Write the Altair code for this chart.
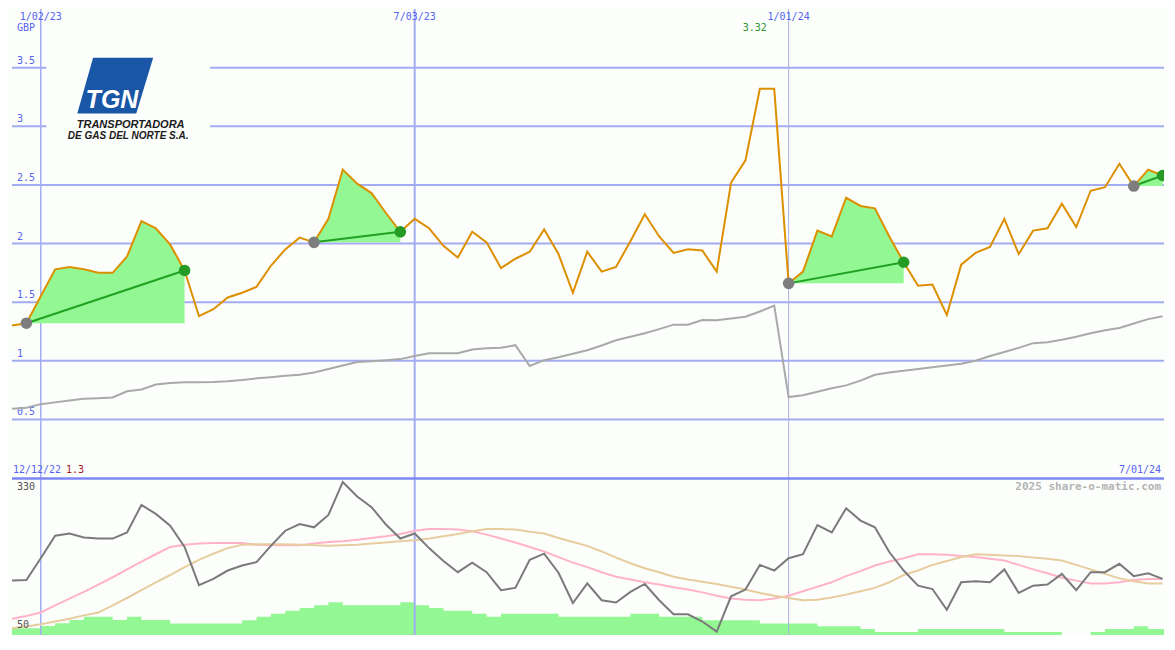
import altair as alt
import pandas as pd

# ------------------------------------------------------------------ data
start_date = "2022-12-19"          # first weekly observation (left edge)

price = [1.30, 1.32, 1.55, 1.78, 1.80, 1.78, 1.75, 1.75, 1.89, 2.19,
         2.13, 1.99, 1.77, 1.38, 1.44, 1.54, 1.58, 1.63, 1.81, 1.95,
         2.05, 2.01, 2.21, 2.63, 2.51, 2.43, 2.26, 2.10, 2.21, 2.13,
         1.98, 1.88, 2.10, 2.01, 1.79, 1.87, 1.93, 2.12, 1.91, 1.58,
         1.93, 1.76, 1.80, 2.02, 2.25, 2.06, 1.92, 1.95, 1.94, 1.76,
         2.52, 2.71, 3.32, 3.32, 1.66, 1.76, 2.11, 2.06, 2.39, 2.32,
         2.30, 2.06, 1.84, 1.64, 1.65, 1.39, 1.82, 1.92, 1.97, 2.21,
         1.91, 2.11, 2.13, 2.34, 2.14, 2.45, 2.48, 2.68, 2.49, 2.63,
         2.58]

rel = [0.59, 0.60, 0.63, 0.645, 0.66, 0.675, 0.68, 0.687, 0.74, 0.755,
       0.797, 0.81, 0.816, 0.817, 0.818, 0.825, 0.835, 0.85, 0.86, 0.872,
       0.88, 0.90, 0.93, 0.96, 0.99, 0.996, 1.005, 1.014, 1.04, 1.063,
       1.065, 1.065, 1.095, 1.107, 1.11, 1.133, 0.955, 1.005, 1.03, 1.06,
       1.09, 1.13, 1.175, 1.205, 1.235, 1.27, 1.308, 1.308, 1.347, 1.345,
       1.36, 1.375, 1.42, 1.47, 0.69, 0.705, 0.735, 0.765, 0.79, 0.83,
       0.88, 0.90, 0.915, 0.93, 0.945, 0.96, 0.975, 1.0, 1.04, 1.075,
       1.11, 1.15, 1.158, 1.18, 1.205, 1.234, 1.26, 1.28, 1.318, 1.355,
       1.38]

osc = [147, 148, 187, 227, 231, 224, 222, 222, 233, 282,
       266, 245, 207, 139, 150, 165, 174, 180, 209, 236,
       248, 242, 264, 323, 297, 278, 247, 222, 231, 205,
       182, 162, 179, 162, 130, 134, 184, 195, 161, 107,
       142, 112, 108, 127, 141, 112, 87, 87, 74, 56,
       119, 131, 175, 165, 187, 194, 246, 233, 276, 254,
       242, 198, 165, 138, 132, 95, 144, 146, 144, 167,
       125, 138, 140, 159, 130, 162, 162, 177, 155, 160,
       150]

ma_fast = [79, 84, 90, 103, 115, 127, 140, 153, 167, 181,
           194, 207, 211, 213, 214, 214, 214, 211, 210, 210,
           210, 213, 216, 217, 220, 223, 226, 230, 236, 239,
           239, 238, 235, 229, 222, 215, 207, 199, 189, 179,
           171, 162, 154, 149, 144, 140, 135, 131, 126, 120,
           115, 113, 112, 115, 120, 128, 136, 144, 155, 164,
           174, 181, 187, 194, 194, 193, 191, 189, 186, 183,
           175, 167, 160, 152, 147, 142, 142, 144, 148, 150,
           150]

ma_slow = [62, 65, 69, 74, 79, 85, 90, 103, 116, 130,
           144, 157, 171, 184, 195, 205, 211, 212, 212, 212,
           211, 210, 209, 210, 211, 213, 215, 217, 219, 222,
           226, 230, 235, 239, 239, 238, 234, 231, 223, 216,
           209, 199, 188, 178, 169, 162, 154, 149, 145, 141,
           136, 131, 125, 120, 116, 112, 113, 117, 122, 128,
           134, 144, 157, 165, 175, 182, 189, 194, 193, 192,
           191, 188, 186, 183, 175, 167, 159, 151, 146, 142,
           142]

volume = [70, 70, 93, 123, 157, 190, 190, 155, 190, 155,
          155, 120, 120, 120, 120, 120, 153, 190, 220, 253,
          280, 310, 340, 310, 310, 310, 310, 340, 310, 280,
          253, 253, 220, 190, 220, 220, 220, 220, 190, 190,
          190, 190, 190, 220, 220, 190, 190, 190, 153, 153,
          153, 153, 120, 120, 120, 120, 90, 90, 90, 63,
          30, 30, 30, 63, 63, 63, 63, 63, 63, 30,
          30, 30, 30, 0, 0, 30, 63, 63, 90, 63,
          63]

signal_start = [1, 21, 54, 78]
signal_end = [12, 27, 62, 80]

grid_dates = ["2023-01-02", "2023-07-03", "2024-01-01"]
grid_labels = ["1/02/23", "7/03/23", "1/01/24"]
grid_widths = [1.5, 2.0, 1.0]
grid_colors = ["#a3acf3", "#a3acf3", "#aab0e2"]

y_ticks = [0.5, 1, 1.5, 2, 2.5, 3, 3.5]
y_tick_labels = ["0.5", "1", "1.5", "2", "2.5", "3", "3.5"]
currency = "GBP"
range_start_label = "12/12/22"
range_end_label = "7/01/24"
bottom_labels = ["330", "50"]
credit = "2025 share-o-matic.com"
company_lines = ["TRANSPORTADORA", "DE GAS DEL NORTE S.A."]
logo_word = "TGN"

# ------------------------------------------------------------------ layout / style
W = 1152
H_TOP = 469
H_BOT = 157
SX = W / 1175
SY = (H_TOP + H_BOT) / 650

MONO = "DejaVu Sans Mono"
SANS = "Liberation Sans"
BLUE = "#5464ee"
GRID = "#a3acf3"
SEP = "#7d87f4"
BG = "#fcfefc"
ORANGE = "#dc9000"
GREEN_FILL = "#93f893"
DKGREEN = "#22a022"

n = len(price)
week_dates = pd.date_range(start_date, periods=n + 1, freq="7D")
dates = [d.strftime("%Y-%m-%d") for d in week_dates[:-1]]
last_edge = week_dates[-1].strftime("%Y-%m-%d")

x_scale = alt.Scale(
    domain=[alt.DateTime(year=2022, month=12, date=19, utc=True),
            alt.DateTime(year=2024, month=7, date=1, hours=17, utc=True)],
    nice=False,
)


def xenc(field="date"):
    return alt.X(f"{field}:T", scale=x_scale, axis=None)


y_top = alt.Scale(domain=[0, 4], nice=False, zero=False)
y_bot = alt.Scale(domain=[50, 330], nice=False, zero=False)
y_vol = alt.Scale(domain=[0, 1630], nice=False, zero=True)

one = pd.DataFrame({"k": [0]})

# ------------------------------------------------------------------ top panel
top_df = pd.DataFrame({"date": dates, "price": price, "rel": rel})
grid_df = pd.DataFrame({"date": grid_dates, "label": grid_labels,
                        "w": grid_widths, "c": grid_colors})
ytick_df = pd.DataFrame({"v": y_ticks, "label": y_tick_labels})

sig_rows, seg_rows, dot_rows = [], [], []
for k, (s, e) in enumerate(zip(signal_start, signal_end)):
    for i in range(s, e + 1):
        sig_rows.append({"seg": k, "date": dates[i], "v": price[i], "base": price[s]})
    seg_rows.append({"seg": k, "d0": dates[s], "d1": dates[e],
                     "v0": price[s], "v1": price[e]})
    dot_rows.append({"date": dates[s], "v": price[s], "c": "#7d7d7d"})
    dot_rows.append({"date": dates[e], "v": price[e], "c": "#259a25"})
sig_df = pd.DataFrame(sig_rows)
seg_df = pd.DataFrame(seg_rows)
dot_df = pd.DataFrame(dot_rows)

hgrid = alt.Chart(ytick_df).mark_rule(color=GRID, strokeWidth=2).encode(
    y=alt.Y("v:Q", scale=y_top, axis=None),
)
ylabels = alt.Chart(ytick_df).mark_text(
    font=MONO, fontSize=10, color=BLUE, align="left", baseline="bottom", dx=5, dy=-2,
).encode(x=alt.value(0), y=alt.Y("v:Q", scale=y_top, axis=None), text="label:N")

vrules_top = alt.Chart(grid_df).mark_rule().encode(
    x=xenc(),
    strokeWidth=alt.StrokeWidth("w:Q", scale=None),
    color=alt.Color("c:N", scale=None),
)

logo_bg = alt.Chart(one).mark_rect(color=BG).encode(
    x=alt.value(35 * SX), x2=alt.value(202 * SX),
    y=alt.value(44 * SY), y2=alt.value(141 * SY),
)

logo_shape = alt.Chart(one).mark_point(
    shape="M -0.584 -0.736 L 1 -0.736 L 0.553 0.736 L -1 0.736 Z",
    filled=True, opacity=1, strokeWidth=0, color="#1a56a6",
    size=(77.4 * SX) ** 2,
).encode(x=alt.value(105.3 * SX), y=alt.value(79.5 * SY))

logo_word_mark = alt.Chart(one).mark_text(
    text=logo_word, font=SANS, fontSize=25, fontStyle="italic", fontWeight="bold",
    color="white", align="center", baseline="middle",
).encode(x=alt.value(102 * SX), y=alt.value(94 * SY))

logo_line1 = alt.Chart(one).mark_text(
    text=company_lines[0], font=SANS, fontSize=11, fontStyle="italic",
    fontWeight="bold", color="#1a1a1a", align="center", baseline="middle",
).encode(x=alt.value(121 * SX), y=alt.value(120 * SY))

logo_line2 = alt.Chart(one).mark_text(
    text=company_lines[1], font=SANS, fontSize=10, fontStyle="italic",
    fontWeight="bold", color="#1a1a1a", align="center", baseline="middle",
).encode(x=alt.value(118.5 * SX), y=alt.value(132 * SY))

areas = alt.Chart(sig_df).mark_area(color=GREEN_FILL, opacity=1, clip=True).encode(
    x=xenc(), y=alt.Y("v:Q", scale=y_top, axis=None), y2="base:Q", detail="seg:N",
)

rel_line = alt.Chart(top_df).mark_line(color="#a9a9a9", strokeWidth=2).encode(
    x=xenc(), y=alt.Y("rel:Q", scale=y_top, axis=None),
)

price_line = alt.Chart(top_df).mark_line(color=ORANGE, strokeWidth=2).encode(
    x=xenc(), y=alt.Y("price:Q", scale=y_top, axis=None),
)

seg_rules = alt.Chart(seg_df).mark_rule(color=DKGREEN, strokeWidth=2).encode(
    x=xenc("d0"), x2="d1:T", y=alt.Y("v0:Q", scale=y_top, axis=None), y2="v1:Q",
)

dots = alt.Chart(dot_df).mark_circle(size=135, opacity=1, clip=True).encode(
    x=xenc(), y=alt.Y("v:Q", scale=y_top, axis=None),
    color=alt.Color("c:N", scale=None),
)

date_text = alt.Chart(grid_df).mark_text(
    font=MONO, fontSize=10, color=BLUE, align="center", baseline="middle",
).encode(x=xenc(), y=alt.value(8 * SY), text="label:N")

cur_text = alt.Chart(one).mark_text(
    text=currency, font=MONO, fontSize=10, color=BLUE, align="left", baseline="middle",
).encode(x=alt.value(5 * SX), y=alt.value(20 * SY))

max_i = price.index(max(price))
max_df = pd.DataFrame({"date": [dates[max_i]], "t": [f"{max(price):.2f}"]})
max_text = alt.Chart(max_df).mark_text(
    font=MONO, fontSize=10, color="#2c962c", align="center", baseline="middle", dx=-5,
).encode(x=xenc(), y=alt.value(20 * SY), text="t:N")

rs_text = alt.Chart(one).mark_text(
    text=range_start_label, font=MONO, fontSize=10, color=BLUE, align="left",
    baseline="middle",
).encode(x=alt.value(1 * SX), y=alt.value(479 * SY))

first_text = alt.Chart(one).mark_text(
    text=f"{price[0]:.1f}", font=MONO, fontSize=10, color="#a01c1c", align="left",
    baseline="middle",
).encode(x=alt.value(55 * SX), y=alt.value(479 * SY))

re_text = alt.Chart(one).mark_text(
    text=range_end_label, font=MONO, fontSize=10, color=BLUE, align="right",
    baseline="middle",
).encode(x=alt.value(1172 * SX), y=alt.value(479 * SY))

top = alt.layer(
    hgrid, vrules_top, logo_bg, logo_shape, logo_word_mark, logo_line1, logo_line2,
    ylabels, areas, rel_line, price_line, seg_rules, dots,
    date_text, cur_text, max_text, rs_text, first_text, re_text,
).properties(width=W, height=H_TOP)

# ------------------------------------------------------------------ bottom panel
bot_df = pd.DataFrame({"date": dates, "osc": osc, "ma_fast": ma_fast, "ma_slow": ma_slow})
vol_df = pd.DataFrame({"date": dates + [last_edge], "volume": volume + [volume[-1]]})

vol_area = alt.Chart(vol_df).mark_area(
    interpolate="step-after", color=GREEN_FILL, opacity=1, clip=True,
).encode(x=xenc(), y=alt.Y("volume:Q", scale=y_vol, axis=None))

vrules_bot = alt.Chart(grid_df).mark_rule().encode(
    x=xenc(),
    strokeWidth=alt.StrokeWidth("w:Q", scale=None),
    color=alt.Color("c:N", scale=None),
)

fast_line = alt.Chart(bot_df).mark_line(color="#ffb3c9", strokeWidth=2).encode(
    x=xenc(), y=alt.Y("ma_fast:Q", scale=y_bot, axis=None))
slow_line = alt.Chart(bot_df).mark_line(color="#e7cd9e", strokeWidth=2).encode(
    x=xenc(), y=alt.Y("ma_slow:Q", scale=y_bot, axis=None))
osc_line = alt.Chart(bot_df).mark_line(color="#7a7a7a", strokeWidth=2).encode(
    x=xenc(), y=alt.Y("osc:Q", scale=y_bot, axis=None))

sep_rule = alt.Chart(one).mark_rule(color=SEP, strokeWidth=2.5).encode(
    y=alt.value(0.5), x=alt.value(0), x2=alt.value(W))

top_lab = alt.Chart(one).mark_text(
    text=bottom_labels[0], font=MONO, fontSize=10, color="#505050", align="left",
    baseline="middle",
).encode(x=alt.value(5 * SX), y=alt.value(9 * SY))
bot_lab = alt.Chart(one).mark_text(
    text=bottom_labels[1], font=MONO, fontSize=10, color="#505050", align="left",
    baseline="middle",
).encode(x=alt.value(5 * SX), y=alt.value(153 * SY))
credit_text = alt.Chart(one).mark_text(
    text=credit, font=MONO, fontSize=11, fontWeight="bold", color="#b4b4b4",
    align="right", baseline="middle",
).encode(x=alt.value(1172 * SX), y=alt.value(9.5 * SY))

bottom = alt.layer(
    vol_area, vrules_bot, fast_line, slow_line, osc_line, sep_rule,
    top_lab, bot_lab, credit_text,
).resolve_scale(y="independent").properties(width=W, height=H_BOT)

chart = alt.vconcat(top, bottom, spacing=0, bounds="flush").properties(
    padding={"left": 0, "right": 0, "top": 0, "bottom": 0},
    background=BG,
).configure_view(stroke=None, strokeWidth=0)

chart.save("out.html", embed_options={"renderer": "svg", "actions": False})
